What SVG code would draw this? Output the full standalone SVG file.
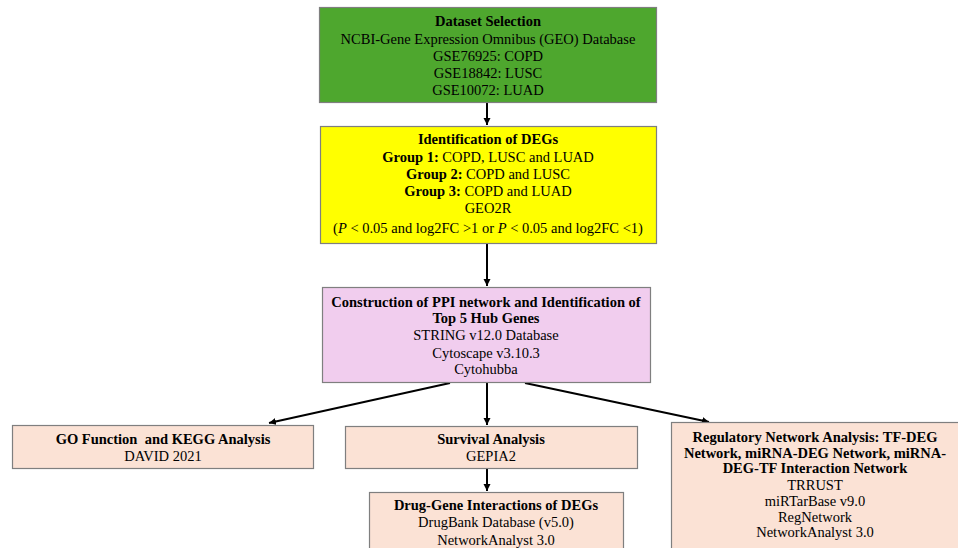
<svg xmlns="http://www.w3.org/2000/svg" width="958" height="548" viewBox="0 0 958 548">
<defs>
<marker id="ah" markerWidth="8" markerHeight="8" refX="7" refY="4" orient="auto" markerUnits="userSpaceOnUse">
<path d="M0,0.5 L7,4 L0,7.5 Z" fill="#000"/>
</marker>
<style>
.box{stroke:#7f7f7f;stroke-width:1.2}
text{font-family:"Liberation Serif","Times New Roman",serif;font-size:14.5px;fill:#000;text-anchor:middle}
.b{font-weight:bold}
.i{font-style:italic}
.c{stroke:#000;stroke-width:2;fill:none;marker-end:url(#ah)}
</style>
</defs>
<rect width="958" height="548" fill="#fff"/>
<g id="connectors">
<line class="c" x1="487" y1="102" x2="487" y2="125"/>
<line class="c" x1="487" y1="243" x2="487" y2="286"/>
<line class="c" x1="450" y1="383" x2="269" y2="423"/>
<line class="c" x1="487" y1="383" x2="487" y2="425"/>
<line class="c" x1="525" y1="383" x2="709" y2="422"/>
<line class="c" x1="487" y1="468" x2="487" y2="491"/>
</g>
<g id="dataset">
<rect class="box" x="319.5" y="7.5" width="337" height="95" fill="#4ea72e"/>
<text x="488" y="26" class="b">Dataset Selection</text>
<text x="488" y="44">NCBI-Gene Expression Omnibus (GEO) Database</text>
<text x="488" y="61">GSE76925: COPD</text>
<text x="488" y="78">GSE18842: LUSC</text>
<text x="488" y="95">GSE10072: LUAD</text>
</g>
<g id="degs">
<rect class="box" x="320.5" y="126.5" width="336" height="117" fill="#ffff00"/>
<text x="488" y="144" class="b">Identification of DEGs</text>
<text x="488" y="162"><tspan class="b">Group 1:</tspan> COPD, LUSC and LUAD</text>
<text x="488" y="179"><tspan class="b">Group 2:</tspan> COPD and LUSC</text>
<text x="488" y="196"><tspan class="b">Group 3:</tspan> COPD and LUAD</text>
<text x="488" y="213">GEO2R</text>
<text x="488" y="233">(<tspan class="i">P</tspan> &lt; 0.05 and log2FC &gt;1 or <tspan class="i">P</tspan> &lt; 0.05 and log2FC &lt;1)</text>
</g>
<g id="ppi">
<rect class="box" x="322.5" y="287.5" width="328" height="95" fill="#f1cdee"/>
<text x="486" y="307" class="b">Construction of PPI network and Identification of</text>
<text x="486" y="323" class="b">Top 5 Hub Genes</text>
<text x="486" y="340">STRING v12.0 Database</text>
<text x="486" y="358">Cytoscape v3.10.3</text>
<text x="486" y="374">Cytohubba</text>
</g>
<g id="go">
<rect class="box" x="12.5" y="425.5" width="301" height="43" fill="#fbe2d5"/>
<text x="163" y="444" class="b">GO Function&#160; and KEGG Analysis</text>
<text x="163" y="461">DAVID 2021</text>
</g>
<g id="survival">
<rect class="box" x="345.5" y="426.5" width="292" height="42" fill="#fbe2d5"/>
<text x="491" y="444" class="b">Survival Analysis</text>
<text x="491" y="461">GEPIA2</text>
</g>
<g id="drug">
<rect class="box" x="369.5" y="492.5" width="254" height="60" fill="#fbe2d5"/>
<text x="496" y="510" class="b">Drug-Gene Interactions of DEGs</text>
<text x="496" y="527">DrugBank Database (v5.0)</text>
<text x="496" y="545">NetworkAnalyst 3.0</text>
</g>
<g id="regulatory">
<rect class="box" x="671.5" y="422.5" width="290" height="130" fill="#fbe2d5"/>
<text x="815" y="442" class="b">Regulatory Network Analysis: TF-DEG</text>
<text x="815" y="458" class="b">Network, miRNA-DEG Network, miRNA-</text>
<text x="815" y="473" class="b">DEG-TF Interaction Network</text>
<text x="815" y="490">TRRUST</text>
<text x="815" y="506">miRTarBase v9.0</text>
<text x="815" y="522">RegNetwork</text>
<text x="815" y="537">NetworkAnalyst 3.0</text>
</g>
</svg>
